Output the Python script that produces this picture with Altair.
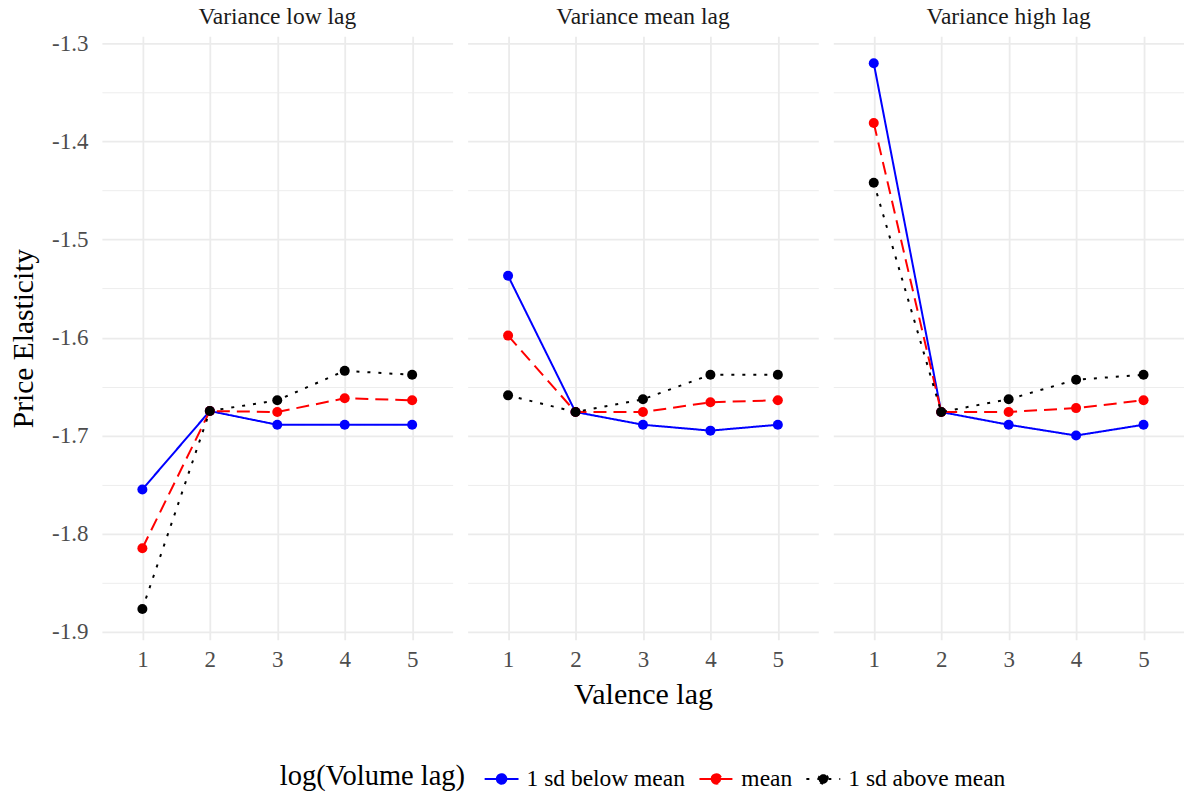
import altair as alt
import pandas as pd

# ---- data ----
panels = ["Variance low lag", "Variance mean lag", "Variance high lag"]
series = ["1 sd below mean", "mean", "1 sd above mean"]
valence = [1, 2, 3, 4, 5]

low_below = [-1.755, -1.675, -1.689, -1.689, -1.689]
low_mean = [-1.815, -1.675, -1.676, -1.662, -1.664]
low_above = [-1.877, -1.675, -1.664, -1.634, -1.638]

mean_below = [-1.537, -1.676, -1.689, -1.695, -1.689]
mean_mean = [-1.598, -1.676, -1.676, -1.666, -1.664]
mean_above = [-1.659, -1.676, -1.663, -1.638, -1.638]

high_below = [-1.320, -1.676, -1.689, -1.700, -1.689]
high_mean = [-1.381, -1.676, -1.676, -1.672, -1.664]
high_above = [-1.442, -1.676, -1.663, -1.643, -1.638]

y_ticks = [-1.9, -1.85, -1.8, -1.75, -1.7, -1.65, -1.6, -1.55, -1.5, -1.45, -1.4, -1.35, -1.3]
series_colors = ["#0000FF", "#FF0000", "#000000"]
series_dashes = [[1, 0], [13, 7], [3, 8]]

panel_values = {
    "Variance low lag": [low_below, low_mean, low_above],
    "Variance mean lag": [mean_below, mean_mean, mean_above],
    "Variance high lag": [high_below, high_mean, high_above],
}

rows = []
for p in panels:
    for s, ys in zip(series, panel_values[p]):
        for v, yv in zip(valence, ys):
            rows.append({"panel": p, "series": s, "valence": v, "elasticity": yv})
df = pd.DataFrame(rows)

FONT = "Liberation Serif"
major_test = "abs(datum.value*10 - round(datum.value*10)) < 0.001"

x_enc = alt.X(
    "valence:Q",
    scale=alt.Scale(domain=[0.4, 5.6], nice=False, zero=False),
    axis=alt.Axis(
        values=valence, format="d", title=None, labelFontSize=23, labelFont=FONT,
        labelColor="#4D4D4D", labelPadding=9, grid=True, gridColor="#EBEBEB",
        gridWidth=1.8, ticks=False, domain=False,
    ),
)
y_enc = alt.Y(
    "elasticity:Q",
    scale=alt.Scale(domain=[-1.9085, -1.2925], nice=False, zero=False),
    axis=alt.Axis(
        values=y_ticks,
        labelExpr=major_test + " ? replace(format(datum.value, '.1f'), '\u2212', '-') : ''",
        labelFontSize=23, labelFont=FONT, labelColor="#4D4D4D", labelPadding=14,
        labelOverlap=False,
        title="Price Elasticity", titleFont=FONT, titleFontSize=29.5,
        titleFontWeight="normal", titleColor="#000000", titlePadding=13,
        grid=True, gridColor="#EBEBEB",
        gridWidth={"condition": {"test": major_test, "value": 1.8}, "value": 0.9},
        ticks=False, domain=False,
    ),
)

legend = alt.Legend(
    title="log(Volume lag)", orient="none", legendX=178, legendY=725,
    direction="horizontal", titleOrient="left",
    titleFont=FONT, titleFontSize=28.5, titleFontWeight="normal", titleColor="#000000",
    titleLimit=400, labelLimit=400,
    labelFont=FONT, labelFontSize=23.5, labelColor="#000000",
    symbolType="M-1,0L1,0M-0.28,0A0.28,0.28 0 1 1 0.28,0A0.28,0.28 0 1 1 -0.28,0Z",
    symbolSize=1150, symbolStrokeWidth=2, columnPadding=10, labelOffset=7,
    titlePadding=18,
)

color_enc = alt.Color("series:N", scale=alt.Scale(domain=series, range=series_colors), legend=legend)
dash_enc = alt.StrokeDash("series:N", scale=alt.Scale(domain=series, range=series_dashes), legend=legend)

lines = alt.Chart().mark_line(strokeWidth=2).encode(
    x=x_enc, y=y_enc, color=color_enc, strokeDash=dash_enc, detail="series:N"
)
points = alt.Chart().mark_circle(size=100, opacity=1).encode(
    x=x_enc, y=y_enc, color=color_enc
)

chart = alt.layer(lines, points, data=df).properties(width=351, height=604).facet(
    column=alt.Column(
        "panel:N", sort=panels,
        header=alt.Header(
            title="Valence lag", titleOrient="bottom", labelOrient="top",
            labelFont=FONT, labelFontSize=23.5, labelColor="#1A1A1A", labelPadding=8,
            titleFont=FONT, titleFontSize=30, titleFontWeight="normal",
            titleColor="#000000", titlePadding=-2,
        ),
    ),
    spacing=15,
).properties(
    padding={"left": 8, "top": 4, "right": 0, "bottom": 4},
    background="white",
).configure_view(stroke=None)

chart.save("out.html", embed_options={"renderer": "svg", "actions": False})
